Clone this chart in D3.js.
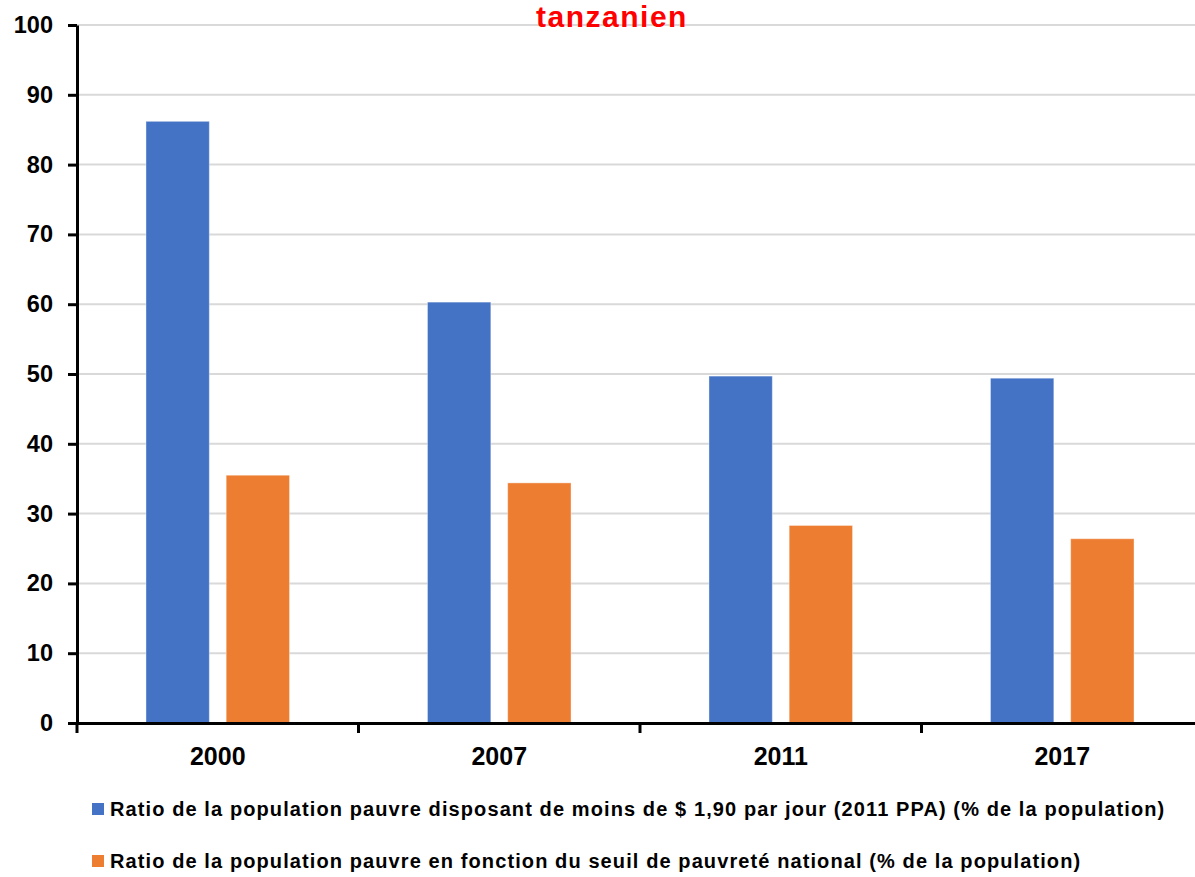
<!DOCTYPE html>
<html lang="en">
<head>
    <meta charset="UTF-8">
    <title>Pauvreté tanzanien</title>
    <script src="https://d3js.org/d3.v7.min.js"></script>
    <style>
        body { margin: 0; background: #fff; }
        text { font-family: "Liberation Sans", Arial, Helvetica, sans-serif; font-weight: bold; }
    </style>
</head>
<body>
    <div id="chart"></div>
    <script>
        // data
        const years = ["2000", "2007", "2011", "2017"];
        const seriesNames = [
            "Ratio de la population pauvre disposant de moins de $ 1,90 par jour (2011 PPA) (% de la population)",
            "Ratio de la population pauvre en fonction du seuil de pauvreté national (% de la population)"
        ];
        const ppaValues = [86.2, 60.3, 49.7, 49.4];
        const nationalValues = [35.5, 34.4, 28.3, 26.4];
        const yTicks = [0, 10, 20, 30, 40, 50, 60, 70, 80, 90, 100];
        const colors = ["#4472c4", "#ed7d31"];

        const W = 1195, H = 877;
        const plotLeft = 77, plotRight = 1203, plotTop = 25, plotBottom = 723;

        const svg = d3.select("#chart").append("svg")
            .attr("width", W)
            .attr("height", H);

        const x0 = d3.scaleBand().domain(years).range([plotLeft, plotRight]).padding(0);
        const bw = x0.bandwidth();
        const x1 = d3.scaleBand().domain([0, 1])
            .range([bw * 0.245, bw * 0.755])
            .paddingInner(0.21);
        const y = d3.scaleLinear().domain([0, 100]).range([plotBottom, plotTop]);

        // gridlines
        svg.append("g")
            .selectAll("line")
            .data(yTicks.filter(d => d > 0))
            .join("line")
            .attr("x1", plotLeft).attr("x2", plotRight)
            .attr("y1", d => y(d)).attr("y2", d => y(d))
            .attr("stroke", "#d9d9d9")
            .attr("stroke-width", 2);

        // bars
        const rows = years.map((yr, i) => ({ year: yr, vals: [ppaValues[i], nationalValues[i]] }));
        svg.append("g")
            .selectAll("g")
            .data(rows)
            .join("g")
            .attr("transform", d => `translate(${x0(d.year)},0)`)
            .selectAll("rect")
            .data(d => d.vals.map((v, k) => ({ k: k, v: v })))
            .join("rect")
            .attr("x", d => x1(d.k))
            .attr("width", x1.bandwidth())
            .attr("y", d => y(d.v))
            .attr("height", d => y(0) - y(d.v))
            .attr("fill", d => colors[d.k])
            .attr("stroke", "#ffffff")
            .attr("stroke-opacity", 0.4)
            .attr("stroke-width", 1);

        // y axis
        const yAxis = svg.append("g")
            .attr("transform", `translate(${plotLeft},0)`)
            .call(d3.axisLeft(y).tickValues(yTicks).tickSize(9).tickPadding(15).tickSizeOuter(0));
        yAxis.select(".domain").attr("stroke", "#000").attr("stroke-width", 3);
        yAxis.selectAll(".tick line").attr("stroke", "#000").attr("stroke-width", 3);
        yAxis.selectAll(".tick text").attr("font-size", 23.5).attr("fill", "#000")
            .attr("font-family", "Liberation Sans, Arial, sans-serif").attr("font-weight", "bold");

        // x axis
        const xAxis = svg.append("g")
            .attr("transform", `translate(0,${plotBottom})`)
            .call(d3.axisBottom(x0).tickSize(0).tickPadding(24));
        xAxis.select(".domain").attr("stroke", "#000").attr("stroke-width", 3);
        xAxis.selectAll(".tick text").attr("font-size", 25).attr("fill", "#000")
            .attr("font-family", "Liberation Sans, Arial, sans-serif").attr("font-weight", "bold");
        xAxis.selectAll(".sep")
            .data(years)
            .join("line")
            .attr("class", "sep")
            .attr("x1", d => x0(d)).attr("x2", d => x0(d))
            .attr("y1", 0).attr("y2", 10)
            .attr("stroke", "#000")
            .attr("stroke-width", 3);

        // title (only the last line is visible)
        svg.append("text")
            .attr("x", 612)
            .attr("y", 27)
            .attr("text-anchor", "middle")
            .attr("font-size", 30)
            .attr("letter-spacing", 1.5)
            .attr("fill", "#ff0000")
            .text("tanzanien");

        // legend
        const legend = svg.append("g")
            .selectAll("g")
            .data(seriesNames)
            .join("g")
            .attr("transform", (d, i) => `translate(92,${803 + i * 52})`);
        legend.append("rect")
            .attr("width", 12).attr("height", 12)
            .attr("fill", (d, i) => colors[i]);
        legend.append("text")
            .attr("x", 18)
            .attr("y", 13)
            .attr("font-size", 20)
            .attr("letter-spacing", 1.1)
            .attr("fill", "#000")
            .text(d => d);
    </script>
</body>
</html>
